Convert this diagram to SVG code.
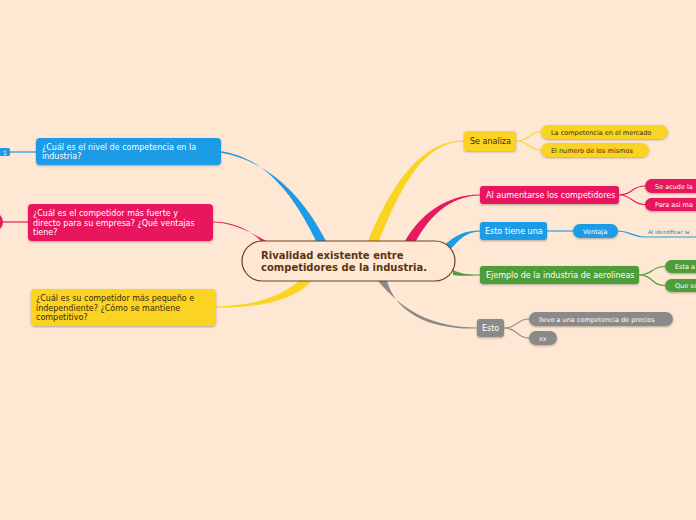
<svg xmlns="http://www.w3.org/2000/svg" width="696" height="520" viewBox="0 0 696 520">
<defs>
<filter id="sh" x="-10%" y="-20%" width="120%" height="160%">
<feDropShadow dx="0" dy="1" stdDeviation="0.8" flood-color="#000" flood-opacity="0.3"/>
</filter>
<style>
text{font-family:"DejaVu Sans","Liberation Sans",sans-serif;}
.w{fill:#fff}
.d{fill:#3a2a10}
.n{font-size:8px}
.s{font-size:6.5px}
.blue{fill:#1d9be6}
.pink{fill:#e7195f}
.yel{fill:#fbd322}
.grn{fill:#4d9e3b}
.gry{fill:#8a8a8a}
.thin{fill:none;stroke-width:1.2}
</style>
</defs>
<rect width="696" height="520" fill="#fee8d3"/>
<g id="connectors">
<path d="M316,241 C296,200 268,158 221,151.3 L221,152.7 C272,162 305,200 326,241 Z" fill="#1d9be6"/>
<path d="M262,242 C250,230 235,222 213,221.4 L213,222.6 C234,223 252,233 272,244 Z" fill="#e7195f"/>
<path d="M300,280 C280,298 250,306 216,306.4 L216,307.6 C252,308 290,303 311,282 Z" fill="#fbd322"/>
<path d="M368,241 C390,188 420,140 464,140.4 L464,141.6 C422,142 400,190 379,241 Z" fill="#fbd322"/>
<path d="M405,241 C420,214 448,194 480,194.4 L480,195.6 C450,196 430,216 416,241 Z" fill="#e7195f"/>
<path d="M443,246 C456,235 464,230.4 480,230.4 L480,231.6 C466,232 460,239 449,251 Z" fill="#1d9be6"/>
<path d="M453,270 C462,274.5 470,274.5 480,274.5 L480,275.5 C470,275.5 462,276.5 453,275 Z" fill="#4d9e3b"/>
<path d="M378,281 C402,310 432,327.5 477,327.5 L477,328.5 C430,330 396,313 387,281 Z" fill="#8a8a8a"/>
<path class="thin" stroke="#fbd322" d="M516,141 C530,141 528,132 541,132 M516,141 C530,141 528,150 541,150"/>
<path class="thin" stroke="#e7195f" d="M619,195 C633,195 631,186 645,186 M619,195 C633,195 631,204.5 645,204.5"/>
<path stroke="#7fb9e4" stroke-width="2" d="M547,231 L573,231"/>
<path class="thin" stroke="#1d9be6" d="M618,231 C630,231 632,237 645,237 L696,237"/>
<path class="thin" stroke="#4d9e3b" d="M639,275 C653,275 651,266.5 665,266.5 M639,275 C653,275 651,285.5 665,285.5"/>
<path class="thin" stroke="#8a8a8a" d="M504,328 C518,328 516,319 529,319 M504,328 C518,328 516,338 529,338"/>
<path class="thin" stroke="#1d9be6" d="M10,152 L36,152"/>
<path class="thin" stroke="#e7195f" d="M2,222 L28,222"/>
</g>
<g id="central">
<rect x="242" y="241" width="213" height="40" rx="20" fill="#fee8d3" stroke="#6b4220" stroke-width="1.2"/>
<text x="261" y="259" font-size="10" font-weight="bold" fill="#5a3412">Rivalidad existente entre</text>
<text x="261" y="271" font-size="10" font-weight="bold" fill="#5a3412">competidores de la industria.</text>
</g>
<g id="n-left1">
<rect x="36" y="138" width="185" height="27" rx="4" class="blue" filter="url(#sh)"/>
<text class="w n" x="42" y="150">¿Cuál es el nivel de competencia en la</text>
<text class="w n" x="42" y="159">industria?</text>
</g>
<g id="n-left1-child">
<rect x="-4" y="148" width="14" height="8" rx="1.5" class="blue"/>
<text class="w" x="3" y="154.5" font-size="6">1</text>
</g>
<g id="n-left2">
<rect x="28" y="204" width="185" height="37" rx="4" class="pink" filter="url(#sh)"/>
<text class="w n" x="33" y="216">¿Cuál es el competidor más fuerte y</text>
<text class="w n" x="33" y="226">directo para su empresa? ¿Qué ventajas</text>
<text class="w n" x="33" y="235">tiene?</text>
</g>
<g id="n-left2-child">
<circle cx="-7" cy="222" r="10" class="pink"/>
</g>
<g id="n-left3">
<rect x="31" y="289" width="185" height="37" rx="4" class="yel" filter="url(#sh)"/>
<text class="d n" x="36" y="301">¿Cuál es su competidor más pequeño e</text>
<text class="d n" x="36" y="311">independiente? ¿Cómo se mantiene</text>
<text class="d n" x="36" y="320">competitivo?</text>
</g>
<g id="n-se-analiza">
<rect x="464" y="131" width="52" height="20" rx="3" class="yel" filter="url(#sh)"/>
<text class="d n" x="470" y="144">Se analiza</text>
</g>
<g id="n-competencia">
<rect x="541" y="125" width="127" height="14" rx="7" class="yel" filter="url(#sh)"/>
<text class="d s" x="551" y="134.5">La competencia en el mercado</text>
</g>
<g id="n-numero">
<rect x="541" y="143" width="108" height="14" rx="7" class="yel" filter="url(#sh)"/>
<text class="d s" x="551" y="152.5">El numero de los mismos</text>
</g>
<g id="n-aumentarse">
<rect x="480" y="186" width="139" height="18" rx="3" class="pink" filter="url(#sh)"/>
<text class="w n" x="486" y="198">Al aumentarse los competidores</text>
</g>
<g id="n-acude">
<rect x="645" y="179" width="70" height="14" rx="7" class="pink" filter="url(#sh)"/>
<text class="w s" x="655" y="188.5">Se acude la</text>
</g>
<g id="n-para">
<rect x="645" y="198" width="70" height="13" rx="6.5" class="pink" filter="url(#sh)"/>
<text class="w s" x="655" y="207">Para asi ma</text>
</g>
<g id="n-esto-tiene">
<rect x="480" y="222" width="67" height="18" rx="3" class="blue" filter="url(#sh)"/>
<text class="w n" x="485" y="234">Esto tiene una</text>
</g>
<g id="n-ventaja">
<rect x="573" y="224" width="45" height="14" rx="7" class="blue" filter="url(#sh)"/>
<text class="w s" x="583" y="233.5">Ventaja</text>
</g>
<g id="n-identificar">
<text x="648" y="234" font-size="5.5" fill="#1d7fc0">Al identificar la</text>
</g>
<g id="n-ejemplo">
<rect x="480" y="266" width="159" height="18" rx="3" class="grn" filter="url(#sh)"/>
<text class="w n" x="486" y="278">Ejemplo de la industria de aerolineas</text>
</g>
<g id="n-esta">
<rect x="665" y="260" width="50" height="13" rx="6.5" class="grn" filter="url(#sh)"/>
<text class="w s" x="675" y="269">Esta a</text>
</g>
<g id="n-que">
<rect x="665" y="279" width="50" height="13" rx="6.5" class="grn" filter="url(#sh)"/>
<text class="w s" x="675" y="288">Que se</text>
</g>
<g id="n-esto">
<rect x="477" y="319" width="27" height="18" rx="3" class="gry" filter="url(#sh)"/>
<text class="w n" x="482" y="331">Esto</text>
</g>
<g id="n-llevo">
<rect x="529" y="312" width="144" height="14" rx="7" class="gry" filter="url(#sh)"/>
<text class="w s" x="539" y="321.5">llevo a una competencia de precios</text>
</g>
<g id="n-xx">
<rect x="529" y="331" width="28" height="14" rx="7" class="gry" filter="url(#sh)"/>
<text class="w s" x="539" y="340.5">xx</text>
</g>
</svg>
